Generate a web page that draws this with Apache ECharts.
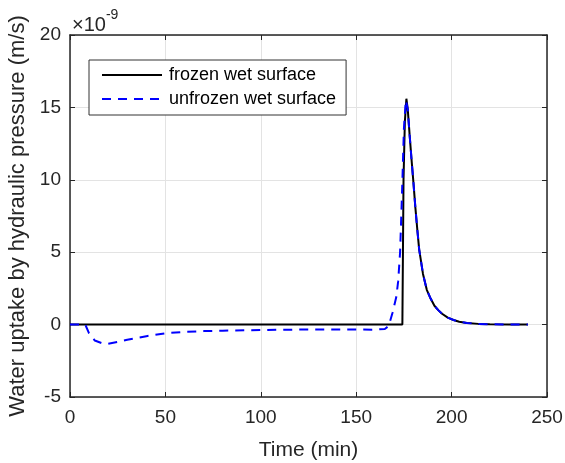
<!DOCTYPE html>
<html>
<head>
<meta charset="utf-8">
<script src="https://cdn.jsdelivr.net/npm/echarts@6/dist/echarts.min.js"></script>
<style>
  html, body { margin: 0; padding: 0; background: #fff; }
  #chart { width: 565px; height: 463px; }
</style>
</head>
<body>
<div id="chart"></div>
<script>
// values are in units of 1e-9 m/s (axis shows "x10^-9")
var frozenTime = [0, 50, 100, 150, 174.2, 174.5, 174.8, 175.5, 176.3, 177, 178, 179, 180, 181, 182, 183, 185, 187, 189, 191, 193, 195, 198, 201, 204, 208, 214, 220, 230, 240];
var frozenVal  = [0, 0, 0, 0, 0, 5, 10, 14, 15.6, 14.9, 13.1, 11.4, 9.8, 8.1, 6.6, 5.2, 3.5, 2.4, 1.8, 1.3, 1.0, 0.75, 0.48, 0.32, 0.2, 0.11, 0.05, 0.02, 0.01, 0];

var unfrozenTime = [0, 5, 8, 10, 13, 17, 20, 25, 30, 40, 50, 60, 70, 80, 100, 120, 140, 160, 165, 167, 169, 171, 172, 173, 174, 175, 176, 176.5, 177, 178, 179, 180, 181, 182, 183, 185, 187, 189, 191, 193, 195, 198, 201, 204, 208, 214, 220, 230, 240];
var unfrozenVal  = [0, 0, 0, -0.6, -1.1, -1.3, -1.32, -1.2, -1.05, -0.8, -0.6, -0.5, -0.45, -0.42, -0.38, -0.34, -0.33, -0.35, -0.3, -0.1, 0.8, 1.9, 3, 5, 9, 13.5, 15.5, 15.4, 14.9, 13.1, 11.4, 9.8, 8.1, 6.6, 5.2, 3.5, 2.4, 1.8, 1.3, 1.0, 0.75, 0.48, 0.32, 0.2, 0.11, 0.05, 0.02, 0.01, 0];

var seriesNames = ['frozen wet surface', 'unfrozen wet surface'];

function pairs(xs, ys) {
    return xs.map(function (x, i) { return [x, ys[i]]; });
}

var dom = document.getElementById('chart');
var myChart = echarts.init(dom);
var font = 'Liberation Sans, Arial, sans-serif';
var tickColor = '#262626';

var option = {
    animation: false,
    textStyle: { fontFamily: font },
    grid: { left: 70, right: 18, top: 35, bottom: 66, outerBoundsMode: 'none' },
    legend: {
        left: 89,
        top: 60,
        orient: 'vertical',
        itemWidth: 60,
        itemHeight: 18,
        itemGap: 6,
        padding: [6, 10, 7, 12],
        borderColor: '#333',
        borderWidth: 1,
        backgroundColor: '#fff',
        itemStyle: { opacity: 0 },
        textStyle: { fontSize: 18, color: '#000', fontFamily: font, padding: [0, 0, 0, 2] },
        data: seriesNames
    },
    graphic: [{
        type: 'text',
        left: 72,
        top: 8,
        style: {
            text: '{a|×10}{b|-9}',
            rich: {
                a: { fontSize: 20, fontFamily: font, fill: tickColor, padding: [7, 0, 0, 0] },
                b: { fontSize: 14, fontFamily: font, fill: tickColor, verticalAlign: 'top' }
            }
        }
    }],
    xAxis: [{
        type: 'value',
        min: 0, max: 250, interval: 50,
        name: 'Time (min)',
        nameLocation: 'middle',
        nameGap: 43,
        nameTextStyle: { fontSize: 21, color: tickColor },
        axisLine: { onZero: false, lineStyle: { color: tickColor, width: 1.5 } },
        axisTick: { inside: true, length: 5, lineStyle: { color: tickColor } },
        axisLabel: { fontSize: 19, color: tickColor, margin: 11 },
        splitLine: { show: true, lineStyle: { color: '#e3e3e3' } }
    }, {
        type: 'value',
        position: 'top',
        min: 0, max: 250, interval: 50,
        axisLine: { onZero: false, lineStyle: { color: tickColor, width: 1.5 } },
        axisTick: { inside: true, length: 5, lineStyle: { color: tickColor } },
        axisLabel: { show: false },
        splitLine: { show: false }
    }],
    yAxis: [{
        type: 'value',
        min: -5, max: 20, interval: 5,
        name: 'Water uptake by hydraulic pressure (m/s)',
        nameLocation: 'middle',
        nameGap: 36,
        nameTextStyle: { fontSize: 22, color: tickColor },
        axisLine: { onZero: false, lineStyle: { color: tickColor, width: 1.5 } },
        axisTick: { inside: true, length: 5, lineStyle: { color: tickColor } },
        axisLabel: { fontSize: 19, color: tickColor, margin: 9 },
        splitLine: { show: true, lineStyle: { color: '#e3e3e3' } }
    }, {
        type: 'value',
        position: 'right',
        min: -5, max: 20, interval: 5,
        axisLine: { onZero: false, lineStyle: { color: tickColor, width: 1.5 } },
        axisTick: { inside: true, length: 5, lineStyle: { color: tickColor } },
        axisLabel: { show: false },
        splitLine: { show: false }
    }],
    series: [{
        name: seriesNames[0],
        type: 'line',
        symbol: 'none',
        data: pairs(frozenTime, frozenVal),
        itemStyle: { color: '#000' },
        lineStyle: { color: '#000', width: 2 }
    }, {
        name: seriesNames[1],
        type: 'line',
        symbol: 'none',
        data: pairs(unfrozenTime, unfrozenVal),
        itemStyle: { color: '#0000ff' },
        lineStyle: { color: '#0000ff', width: 2, type: [9, 7] }
    }]
};

myChart.setOption(option);
</script>
</body>
</html>
